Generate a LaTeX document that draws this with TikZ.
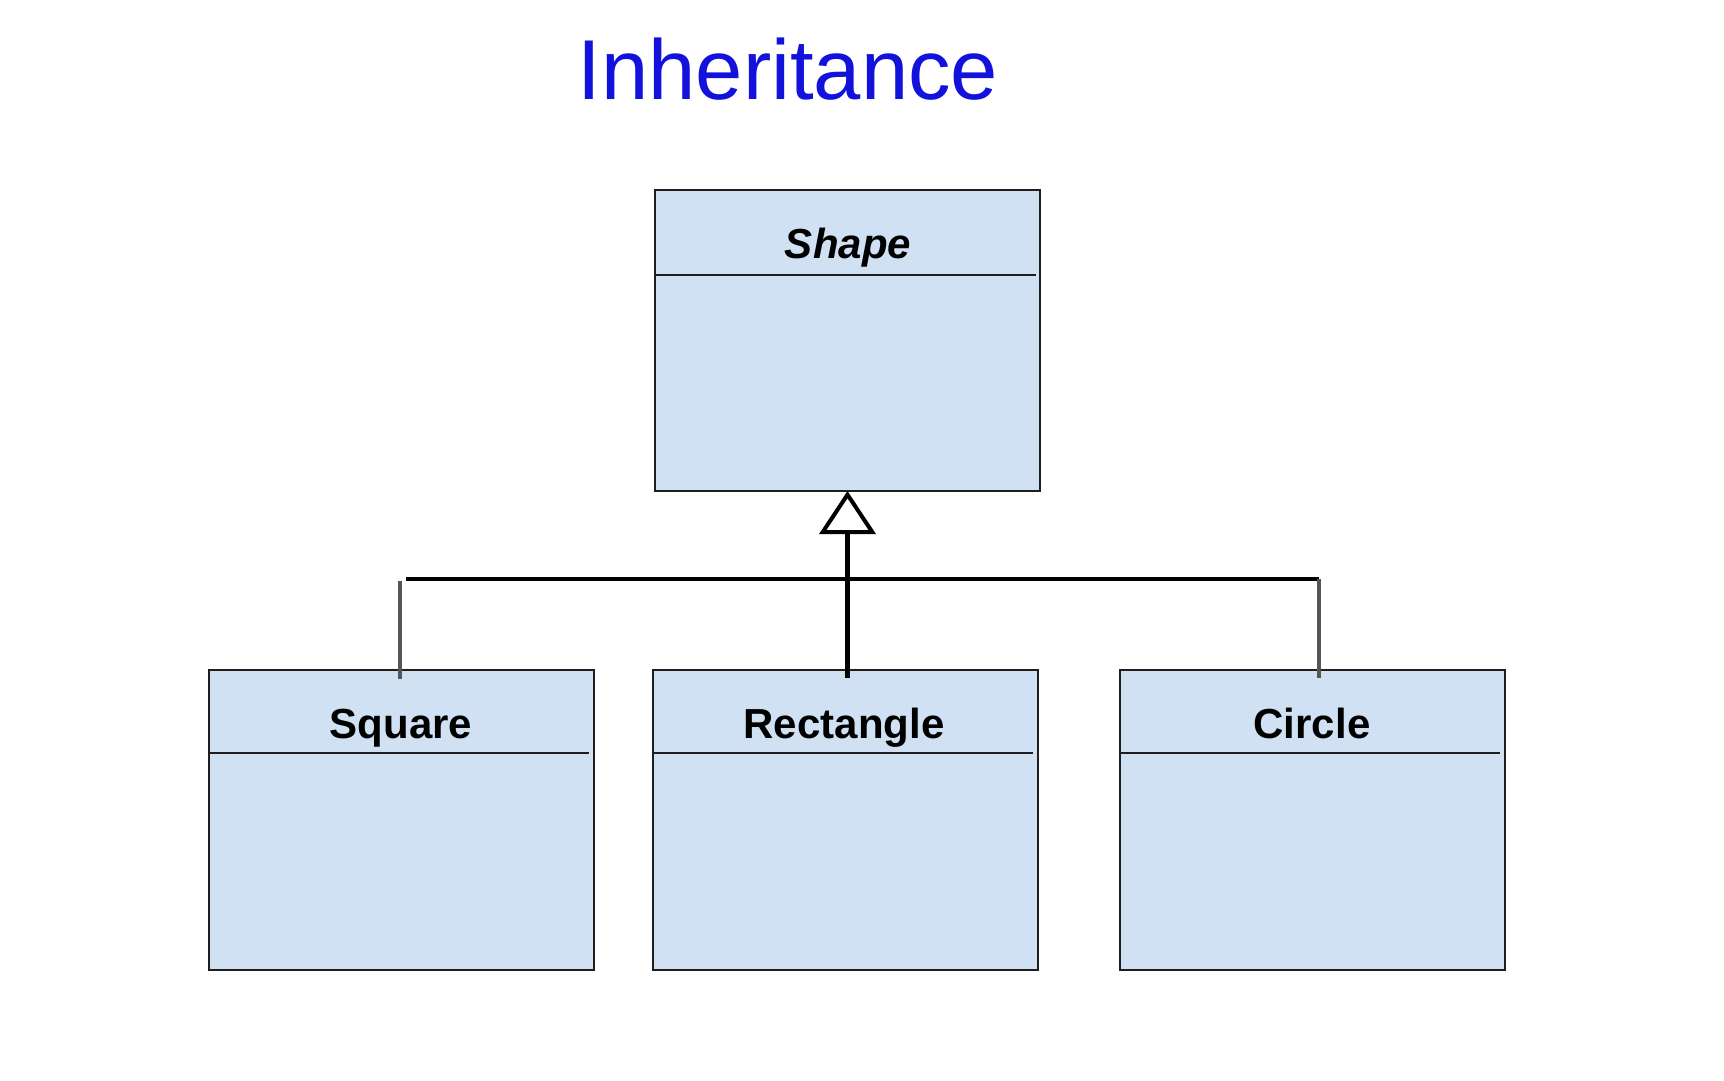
\documentclass[tikz,border=0pt]{standalone}
\usepackage{fontspec}
\setmainfont{Liberation Sans}
\usetikzlibrary{arrows.meta}
\definecolor{boxfill}{HTML}{CFE1F3}
\definecolor{boxline}{HTML}{1E1E1E}
\definecolor{titleblue}{HTML}{1212DC}
\definecolor{graylink}{HTML}{555555}
\begin{document}
\begin{tikzpicture}[x=1pt,y=-1pt,
  classbox/.style={draw=boxline, line width=2pt, fill=boxfill, anchor=north west,
    minimum width=385pt, minimum height=300pt, inner sep=0pt, outer sep=0pt},
  classname/.style={anchor=base, font=\fontsize{42}{48}\selectfont\bfseries, inner sep=0pt},
  divider/.style={draw=boxline, line width=1.6pt},
  mainlink/.style={draw=black, line width=4.2pt},
  sidelink/.style={draw=graylink, line width=3.2pt}]
\fill[white] (0,0) rectangle (1724,1080);
\useasboundingbox (0,0) rectangle (1724,1080);

\node[anchor=base, text=titleblue, font=\fontsize{85}{96}\selectfont, inner sep=0pt] (title) at (788,99) {Inheritance};

\node[classbox, minimum height=301pt] (shape) at (655,190) {};
\node[classbox] (sq) at (209,670) {};
\node[classbox] (rect) at (653,670) {};
\node[classbox] (circ) at (1120,670) {};

\draw[divider] (655,275) -- (1036,275);
\draw[divider] (209,753) -- (589,753);
\draw[divider] (653,753) -- (1033,753);
\draw[divider] (1120,753) -- (1500,753);

\node[classname, font=\fontsize{42}{48}\selectfont\bfseries\itshape] (shapename) at (848,258) {Shape};
\node[classname] (sqname) at (401,738) {Square};
\node[classname] (rectname) at (844,738) {Rectangle};
\node[classname] (circname) at (1312,738) {Circle};

\coordinate (hl) at (406,579);
\coordinate (hr) at (1319,579);
\coordinate (sqtop) at (400,679);
\coordinate (circtop) at (1319,678);
\coordinate (recttop) at (847.5,678);

\draw[mainlink] (hl) -- (hr);
\draw[sidelink] (400,581) -- (sqtop);
\draw[sidelink] (hr) -- (circtop);
\draw[mainlink, -{Triangle[open, width=56pt, length=43pt, line width=4pt, fill=white]}] (recttop) -- (shape.south);
\end{tikzpicture}
\end{document}
